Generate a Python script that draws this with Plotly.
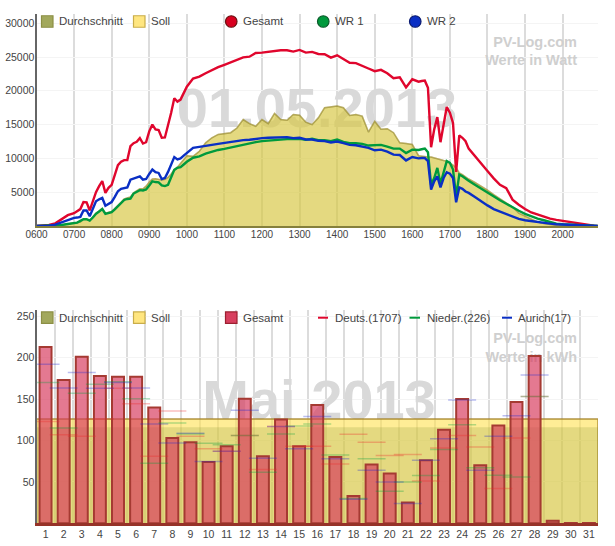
import plotly.graph_objects as go

# ---------- top chart data (time HHMM, Watt) ----------
TIME_HHMM = [600,610,620,630,640,650,700,
 705,710,715,720,725,730,735,740,745,750,755,800,805,810,815,820,825,830,835,840,845,850,855,900,905,910,915,920,925,930,935,940,945,950,955,1000,
 1010,1020,1030,1040,1050,1100,1110,1120,1130,1140,1150,1200,1210,1220,1230,1240,1250,1300,1310,1320,1330,1340,1350,1400,1410,1420,1430,1440,1450,1500,1510,1520,1530,1540,1550,1600,1610,
 1615,1620,1625,1630,1635,1640,1645,1650,1655,1700,1705,1710,1715,1720,1725,1730,
 1740,1750,1800,1810,1820,1830,1840,1850,1900,1910,1920,1930,1940,1950,2000,2010,2020,2030,2040,2050,2056]
GESAMT_W = [0,30,150,400,950,1600,1900,
 2200,2500,3550,3500,2300,3650,5000,5900,6650,4900,5650,6100,7600,9000,9500,9750,9750,11800,12250,12450,13000,12200,12400,14000,15000,14300,14200,13050,13100,14750,16750,18900,18400,18700,19700,20600,
 21800,22100,22600,23100,23500,23850,24250,24650,24950,25050,25600,25650,25800,25900,26000,26000,25800,26050,25650,25750,25450,25400,24900,25250,24750,24150,24100,23750,23300,22900,23100,22600,21850,22000,20500,21700,21350,
 21450,21500,20450,11650,14300,16100,12400,15000,17600,16750,15250,8000,13400,13050,12550,11450,
 10300,9250,8150,7050,6100,5600,3900,3150,2500,2000,1700,1350,1100,900,750,550,400,250,150,50,0]
WR1_W = [0,10,30,60,150,300,450,
 500,750,1000,1000,800,1250,1800,2150,2500,1800,1950,2050,2450,2900,3400,3850,4000,4050,4800,5100,5300,5250,5400,6000,6600,6500,6450,6000,5900,6100,7300,8300,8600,8700,9100,9500,
 10100,10300,10700,11000,11250,11400,11600,11900,12050,12200,12400,12550,12650,12750,12800,12850,12850,12900,12750,12900,12700,12700,12550,12800,12450,12250,12250,12150,11900,11950,12000,11750,11450,11450,10800,11300,11250,
 11350,11450,10900,6100,7100,8600,6250,7850,9600,9350,8350,4400,7600,7350,7000,6700,
 6100,5500,5000,4400,3800,3300,2750,2250,1800,1400,1100,850,550,350,250,200,150,100,50,0,0]
WR2_W = [0,20,60,200,550,950,1200,
 1250,1350,2300,2300,1450,2500,3650,3950,4150,3000,3250,3550,4300,5150,5500,5650,5700,6850,7050,7150,7350,6850,6950,7700,8350,7950,7850,6950,7100,8000,9200,10200,9850,10000,10400,10800,
 11550,11700,11800,12000,12150,12300,12450,12600,12700,12750,12900,13000,13050,13050,13100,13150,13000,13050,12800,12800,12600,12550,12350,12500,12250,12000,11950,11800,11550,11200,11300,11000,10550,10500,9700,10200,10000,
 10050,10050,9600,5400,6600,7350,5700,7100,7950,7750,7100,3500,5700,5500,5100,4900,
 4300,3650,3050,2500,2150,1750,1400,1050,850,700,550,450,350,250,200,150,100,50,50,0,0]
DURCHSCHNITT_W = [0,5,15,50,150,300,450,
 500,600,1000,1000,800,1300,1900,2200,2600,1900,2000,2150,2600,3000,3500,4000,4200,4300,4900,5200,5500,5500,5900,6500,6950,7000,6950,6800,6900,7200,7700,8300,8700,9300,9800,10400,
 10300,11050,12300,13050,13550,13650,13800,14500,15750,15150,14750,15750,15150,16650,15750,15650,16500,16400,15350,15000,16000,17500,17650,17750,17500,16350,16500,16250,13900,15500,14300,14400,13800,12300,12200,12050,10400,
 10300,10200,10200,10200,10050,10000,9800,9700,9600,9350,9000,8600,7850,7600,7250,6950,
 6450,5900,5300,4650,4050,3500,2800,1900,1450,950,600,350,200,100,50,0,0,0,0,0,0]
SOLL_W = list(DURCHSCHNITT_W)
TICKS_HHMM = [600,700,800,900,1000,1100,1200,1300,1400,1500,1600,1700,1800,1900,2000]
Y1_TICKS = [5000,10000,15000,20000,25000,30000]

# ---------- bottom chart data (day, kWh) ----------
DAYS = list(range(1, 32))
GESAMT_KWH = [213,173,201,178,177,177,140,103,98,74,93,150.5,81,125.5,93,143,80,33,71,60,25,76,113,150,70,118,146.5,202,3,0.5,0.5]
DEUTS_KWH = [123,107,105,126,163,144.5,81,135.5,105,90,87,106,65,117,93,93,71.6,107.5,98,82,83,51,91,106,92,42,103,153,None,None,None]
NIEDER_KWH = [170,115,157,168,171,150.5,72.5,121,108,96.6,95,106,61.6,108,117.5,120,82.5,30,78,38.6,50,57.6,89,119,67,58,56,153,None,None,None]
AURICH_KWH = [192,163.5,182,163,170,163.5,120,97,108.7,74.5,87,136.5,78.5,117,90,129,78,29,64,50,24,76,102,149,64,105,130,179,None,None,None]
SOLL_KWH = 126
DURCHSCHNITT_KWH = 116
Y2_TICKS = [50,100,150,200,250]

for s in (GESAMT_W, WR1_W, WR2_W, DURCHSCHNITT_W):
    assert len(s) == len(TIME_HHMM), len(s)

# ---------- layout constants ----------
W, H = 615, 546
L, R = 36.5, 598
T1, B1 = 14, 226
T2, B2 = 310, 523.3
XMIN1 = 360
XMAX1 = XMIN1 + (R - L) / 37.58 * 60
YMAX1 = (B1 - T1) / 0.00676
YMAX2 = (B2 - T2) / 0.828
TEXT = "#444444"
FONT = "Liberation Sans, Arial, sans-serif"
GRID = "#dcdcdc"
HGRID = "#f4f4f4"

def minutes(hhmm):
    return hhmm // 100 * 60 + hhmm % 100

def px(x):
    return x / W

def py(y):
    return 1 - y / H

def x1_at(p):
    return XMIN1 + (p - L) / 37.58 * 60

def y1_at(p):
    return (B1 - p) / 0.00676

def x2_at(p):
    return 0.5 + (p - L) / ((R - L) / 31)

def y2_at(p):
    return (B2 - p) / 0.828

time_x = [minutes(t) for t in TIME_HHMM]
fig = go.Figure()

WM_BIG = dict(family=FONT, size=56, color="#d9d9d9")
WM_SMALL = dict(family=FONT, size=14.5, color="#cfcfcf")

def watermark(text, x, y, font, pos, xa, ya):
    fig.add_trace(go.Scatter(x=[x], y=[y], text=[f"<b>{text}</b>"], mode="text", textposition=pos,
                             textfont=font, showlegend=False, hoverinfo="skip", xaxis=xa, yaxis=ya))

# --- top chart ---
watermark("01.05.2013", x1_at(317), y1_at(112.5), WM_BIG, "middle center", "x", "y")
watermark("PV-Log.com", x1_at(577), y1_at(43), WM_SMALL, "middle left", "x", "y")
watermark("Werte in Watt", x1_at(577), y1_at(61.6), WM_SMALL, "middle left", "x", "y")

SOLL_FILL = "rgba(255,225,80,0.6)"
AVG_FILL = "rgba(120,140,40,0.2)"
fig.add_trace(go.Scatter(x=time_x, y=SOLL_W, name="Soll", mode="lines", fill="tozeroy", fillcolor=SOLL_FILL,
                         line=dict(color="rgba(190,165,60,0.5)", width=1.5), showlegend=False))
fig.add_trace(go.Scatter(x=time_x, y=DURCHSCHNITT_W, name="Durchschnitt", mode="lines", fill="tozeroy", fillcolor=AVG_FILL,
                         line=dict(color="rgba(140,130,50,0.45)", width=1.5), showlegend=False))
for name, vals, col in (("Gesamt", GESAMT_W, "#e0062d"), ("WR 1", WR1_W, "#009a3c"), ("WR 2", WR2_W, "#0a2fc4")):
    fig.add_trace(go.Scatter(x=time_x, y=vals, name=name, mode="lines", line=dict(color=col, width=2.4), showlegend=False))

# --- bottom chart ---
watermark("Mai 2013", x2_at(319), y2_at(405), WM_BIG, "middle center", "x2", "y2")
watermark("PV-Log.com", x2_at(577), y2_at(339), WM_SMALL, "middle left", "x2", "y2")
watermark("Werte in kWh", x2_at(577), y2_at(358), WM_SMALL, "middle left", "x2", "y2")

fig.add_trace(go.Scatter(x=[0.5, 0.5, 31.5, 31.5], y=[0, SOLL_KWH, SOLL_KWH, 0], name="Soll", mode="lines", fill="toself",
                         fillcolor=SOLL_FILL, line=dict(color="rgba(165,130,40,0.85)", width=1.5),
                         showlegend=False, xaxis="x2", yaxis="y2"))
fig.add_trace(go.Scatter(x=[0.5, 0.5, 31.5, 31.5], y=[0, DURCHSCHNITT_KWH, DURCHSCHNITT_KWH, 0], name="Durchschnitt", mode="none",
                         fill="toself", fillcolor=AVG_FILL, showlegend=False, xaxis="x2", yaxis="y2"))
fig.add_trace(go.Bar(x=DAYS, y=GESAMT_KWH, name="Gesamt", width=0.66,
                     marker=dict(color="rgba(215,58,93,0.68)", line=dict(color="rgb(165,58,50)", width=2)),
                     showlegend=False, xaxis="x2", yaxis="y3"))
for name, vals, col in (("Deuts.(1707)", DEUTS_KWH, "rgba(235,40,40,0.3)"),
                        ("Nieder.(226)", NIEDER_KWH, "rgba(0,160,60,0.3)"),
                        ("Aurich(17)", AURICH_KWH, "rgba(30,40,210,0.3)")):
    fig.add_trace(go.Scatter(x=DAYS, y=vals, name=name, mode="markers",
                             marker=dict(symbol="line-ew", size=20, line=dict(color=col, width=1.5)),
                             showlegend=False, xaxis="x2", yaxis="y3"))

# --- hand-placed legends (tight spacing of the original) ---
shapes, annotations = [], []

def label(text, x, y):
    annotations.append(dict(text=text, x=px(x), y=py(y), xref="paper", yref="paper", xanchor="left", yanchor="middle",
                            xshift=-1, showarrow=False, font=dict(family=FONT, size=11.5, color=TEXT)))

def swatch(kind, x0, x1, y, fill, edge):
    if kind == "line":
        shapes.append(dict(type="line", xref="paper", yref="paper", x0=px(x0), x1=px(x1), y0=py(y), y1=py(y),
                           line=dict(color=fill, width=2)))
    else:
        h = (x1 - x0) / 2
        shapes.append(dict(type=kind, xref="paper", yref="paper", x0=px(x0), x1=px(x1), y0=py(y - h), y1=py(y + h),
                           fillcolor=fill, line=dict(color=edge, width=1.2)))

OLIVE, OLIVE_E = "#a2a85c", "#8c8f45"
YEL, YEL_E = "#ffe680", "#c9ad4a"
y = 21.5
swatch("rect", 41.5, 53, y, OLIVE, OLIVE_E); label("Durchschnitt", 58, y)
swatch("rect", 133.5, 145, y, YEL, YEL_E); label("Soll", 150, y)
swatch("circle", 225.5, 237, y, "#d8001f", "#6a1010"); label("Gesamt", 242, y)
swatch("circle", 317.5, 329, y, "#00993c", "#0a5a2a"); label("WR 1", 334, y)
swatch("circle", 409.5, 421, y, "#0a2fc4", "#0a1a70"); label("WR 2", 426, y)
y = 317.7
swatch("rect", 41.5, 53, y, OLIVE, OLIVE_E); label("Durchschnitt", 58, y)
swatch("rect", 133.5, 145, y, YEL, YEL_E); label("Soll", 150, y)
swatch("rect", 225.5, 237, y, "#d8405f", "#9c2030"); label("Gesamt", 242, y)
swatch("line", 318, 328, y, "#e0062d", None); label("Deuts.(1707)", 334, y)
swatch("line", 409.5, 420, y, "#009a3c", None); label("Nieder.(226)", 426, y)
swatch("line", 502, 512, y, "#0a2fc4", None); label("Aurich(17)", 517, y)

tick_font = dict(family=FONT, size=10.5, color=TEXT)
fig.update_layout(
    width=W, height=H, margin=dict(l=0, r=0, t=0, b=0), autosize=False,
    paper_bgcolor="white", plot_bgcolor="white", showlegend=False, barmode="overlay",
    shapes=shapes, annotations=annotations, font=dict(family=FONT, color=TEXT),
    xaxis=dict(domain=[px(L), px(R)], range=[XMIN1, XMAX1], anchor="y", automargin=False, ticklabelstandoff=-2,
               tickvals=[minutes(t) for t in TICKS_HHMM], ticktext=[f"{t:04d}" for t in TICKS_HHMM],
               showgrid=True, gridcolor=GRID, gridwidth=1.5, zeroline=False, ticks="",
               showline=True, linecolor="#85803c", linewidth=2, tickfont=dict(family=FONT, size=10, color=TEXT)),
    yaxis=dict(domain=[py(B1), py(T1)], range=[0, YMAX1], anchor="x", tickvals=Y1_TICKS, tickformat="d", automargin=False,
               ticklabelstandoff=-2, showgrid=True, gridcolor=HGRID, zeroline=False, ticks="",
               showline=True, linecolor="#666666", linewidth=2, tickfont=tick_font),
    xaxis2=dict(domain=[px(L), px(R)], range=[0.5, 31.5], anchor="y2", tickvals=DAYS, ticktext=[str(d) for d in DAYS], automargin=False,
                ticklabelstandoff=-1, showgrid=False, zeroline=False, ticks="", tickfont=tick_font,
                showline=True, linecolor="rgb(150,50,40)", linewidth=2.5,
                minor=dict(tickvals=[d + 0.5 for d in DAYS], showgrid=True, gridcolor=GRID, gridwidth=1.5, ticks="")),
    yaxis2=dict(domain=[py(B2), py(T2)], range=[0, YMAX2], anchor="x2", tickvals=Y2_TICKS, automargin=False,
                ticklabelstandoff=-2, showgrid=True, gridcolor=HGRID, zeroline=False, ticks="",
                showline=True, linecolor="#666666", linewidth=2, tickfont=tick_font),
    yaxis3=dict(domain=[py(B2), py(T2)], range=[0, YMAX2], anchor="x2", overlaying="y2", visible=False, showgrid=False, automargin=False),
)

fig.write_html("out.html", config={"displayModeBar": False},
               post_script="document.body.style.margin='0';document.body.style.overflow='hidden';")
